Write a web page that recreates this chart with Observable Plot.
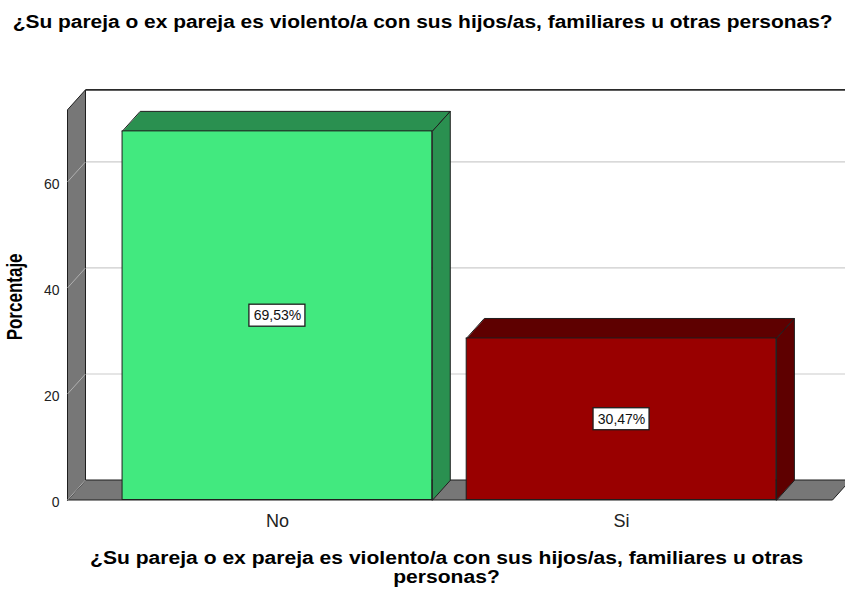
<!DOCTYPE html>
<html><head><meta charset="utf-8">
<script src="https://cdn.jsdelivr.net/npm/d3@7"></script>
<script src="https://cdn.jsdelivr.net/npm/@observablehq/plot@0.6"></script>
<style>
html,body{margin:0;padding:0;background:#fff;overflow:hidden;}
#wrap{position:relative;width:845px;height:589px;font-family:"Liberation Sans",Arial,sans-serif;}
#chart{position:absolute;left:0;top:0;}
.ttl{position:absolute;left:0;width:845px;text-align:center;font-weight:bold;color:#000;font-size:18px;line-height:19px;white-space:nowrap;}
.ttl span{display:inline-block;transform-origin:center;}
</style></head><body>
<div id="wrap">
<div id="chart"></div>
<div class="ttl" id="title" style="top:13px"></div>
<div class="ttl" id="xtitle" style="top:549px"></div>
</div>
<script>
// ---- data ----
const categories = ["No", "Si"];
const percentages = [69.53, 30.47];
const valueLabels = ["69,53%", "30,47%"];
const yTicks = [0, 20, 40, 60];
const frontColors = ["#42E97F", "#990000"];
const depthColors = ["#2A9050", "#5E0000"];
const titleText = "¿Su pareja o ex pareja es violento/a con sus hijos/as, familiares u otras personas?";
const xTitleLines = ["¿Su pareja o ex pareja es violento/a con sus hijos/as, familiares u otras", "personas?"];
const yTitle = "Porcentaje";

// ---- geometry (scale units) ----
const yMax = 73.6;            // top of front wall
const xMin = -0.61, xMax = 1.613;
const half = 0.45;            // half bar width
const dxu = 0.0523, dyu = 3.77; // depth offset

const bars = categories.map((c, i) => ({cat: c, i, v: percentages[i], label: valueLabels[i], front: frontColors[i], depth: depthColors[i]}));

function poly(points, fill, stroke = "#1e1e1e", sw = 1) {
  return Plot.line(points.map(([x, y]) => ({x, y})), {x: "x", y: "y", fill, stroke, strokeWidth: sw, curve: "linear-closed"});
}

const wallGray = "#777777";
const marks = [];
// back wall gridlines
marks.push(Plot.link(yTicks.filter(t => t > 0), {x1: xMin + dxu, x2: xMax + 0.2, y1: t => t + dyu, y2: t => t + dyu, stroke: "#cccccc", strokeWidth: 1.2}));
// back wall top line
marks.push(Plot.link([yMax], {x1: xMin + dxu, x2: xMax + 0.2, y1: t => t + dyu, y2: t => t + dyu, stroke: "#2a2a2a", strokeWidth: 1.8}));
// floor
marks.push(poly([[xMin, 0], [xMax, 0], [xMax + dxu, dyu], [xMin + dxu, dyu]], wallGray));
// left wall
marks.push(poly([[xMin, 0], [xMin, yMax], [xMin + dxu, yMax + dyu], [xMin + dxu, dyu]], wallGray));
// left wall diagonals
marks.push(Plot.link(yTicks, {x1: xMin, x2: xMin + dxu, y1: t => t, y2: t => t + dyu, stroke: "#b0b0b0", strokeWidth: 1}));
// bars
for (const b of bars) {
  marks.push(poly([[b.i - half, b.v], [b.i + half, b.v], [b.i + half + dxu, b.v + dyu], [b.i - half + dxu, b.v + dyu]], b.depth));
  marks.push(poly([[b.i + half, 0], [b.i + half, b.v], [b.i + half + dxu, b.v + dyu], [b.i + half + dxu, dyu]], b.depth));
}
marks.push(Plot.rect(bars, {x1: d => d.i - half, x2: d => d.i + half, y1: 0, y2: d => d.v, fill: d => d.front, stroke: "#1e1e1e", strokeWidth: 1}));
// value label boxes
marks.push(Plot.rect(bars, {x1: d => d.i, x2: d => d.i, y1: d => d.v / 2, y2: d => d.v / 2, insetLeft: -28, insetRight: -28, insetTop: -11, insetBottom: -11, fill: "white", stroke: "#1e1e1e", strokeWidth: 1.3}));
marks.push(Plot.text(bars, {x: d => d.i, y: d => d.v / 2, text: "label", fontSize: 14, fill: "#111"}));
// category labels
marks.push(Plot.text(bars, {x: d => d.i, y: 0, text: "cat", dy: 21.5, fontSize: 18, fill: "#222"}));
// y tick labels
marks.push(Plot.text(yTicks, {x: xMin, y: d => d, text: d => String(d), textAnchor: "end", dx: -8, dy: 3, fontSize: 14, fill: "#222"}));
// y title
marks.push(Plot.text([yTitle], {frameAnchor: "left", textAnchor: "middle", dx: -52, dy: -8, rotate: -90, fontSize: 17, fontWeight: "bold", fill: "#000"}));

const plot = Plot.plot({
  width: 845, height: 589,
  marginLeft: 67, marginRight: 13, marginTop: 109.3, marginBottom: 89.5,
  x: {type: "linear", domain: [xMin, xMax], axis: null},
  y: {type: "linear", domain: [0, yMax], axis: null},
  style: {fontFamily: "'Liberation Sans', Arial, sans-serif", background: "white", overflow: "hidden"},
  marks
});
document.getElementById("chart").appendChild(plot);
// thicken the rotated y title glyphs (reference is horizontally stretched)
d3.select(plot).selectAll("text").each(function () {
  const t = this.getAttribute("transform");
  if (t && t.includes("rotate")) this.setAttribute("transform", t + " scale(1,1.25)");
});

// titles (HTML), stretched horizontally to match reference widths
function setTitle(el, lines, targetWidth) {
  el.innerHTML = lines.map(l => `<div><span>${l}</span></div>`).join("");
  const spans = el.querySelectorAll("span");
  const s = targetWidth / spans[0].getBoundingClientRect().width;
  spans.forEach(sp => sp.style.transform = `scaleX(${s})`);
}
setTitle(document.getElementById("title"), [titleText], 820);
setTitle(document.getElementById("xtitle"), xTitleLines, 713);
document.getElementById("xtitle").style.left = "24px";
</script>
</body></html>
